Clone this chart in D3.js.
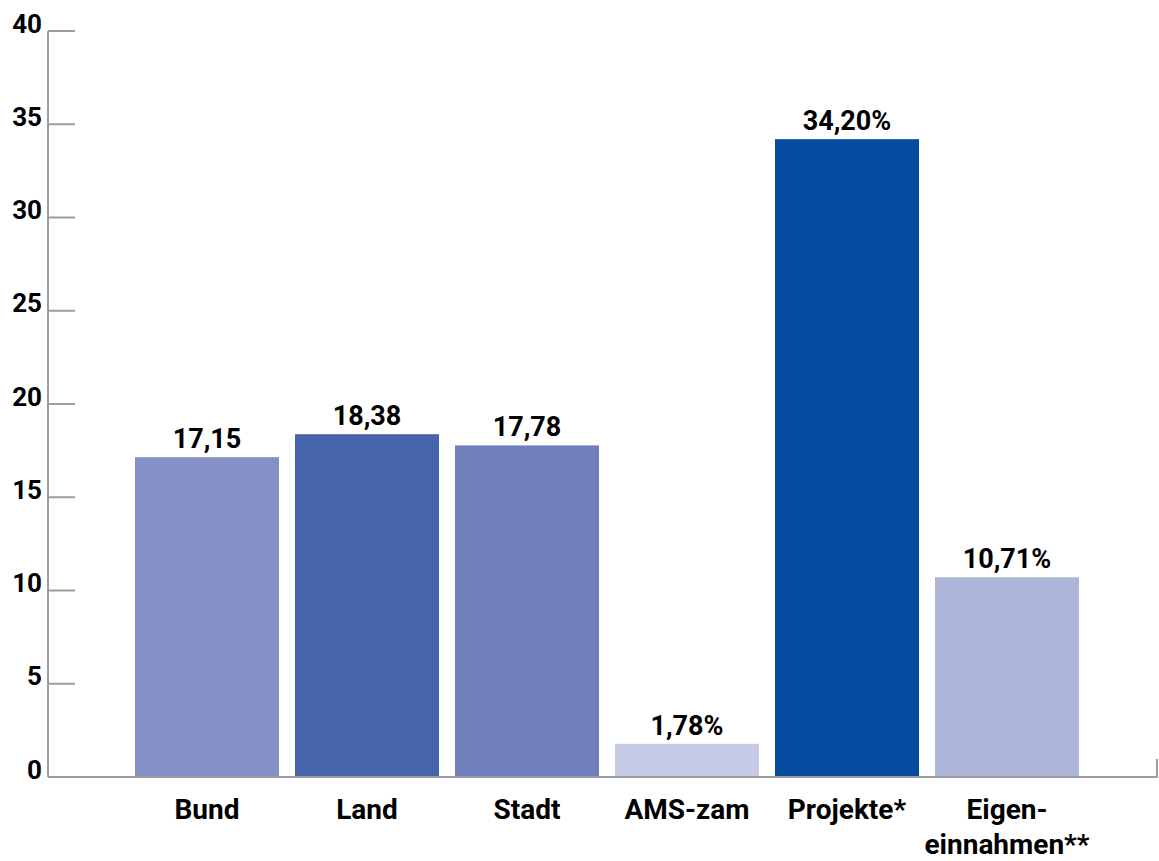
<script src="https://d3js.org/d3.v7.min.js"></script>

<style>
body { margin: 0; background: #fff; }
text { font-family: Roboto, "Open Sans", sans-serif; font-weight: 700; fill: #000; }
</style>

<div id="container"></div>

<script>
var categories = ["Bund", "Land", "Stadt", "AMS-zam", "Projekte*", "Eigen-\neinnahmen**"];
var values = [17.15, 18.38, 17.78, 1.78, 34.20, 10.71];
var valueLabels = ["17,15", "18,38", "17,78", "1,78%", "34,20%", "10,71%"];
var colors = ["#8591c6", "#4665ad", "#7080bd", "#c5cae6", "#054ca1", "#adb6da"];
var yTicks = [0, 5, 10, 15, 20, 25, 30, 35, 40];

var width = 1159, height = 861;

var svg = d3.select("#container").append("svg")
  .attr("width", width)
  .attr("height", height);

// scales
var y = d3.scaleLinear().domain([0, 40]).range([777, 31]);
var x = d3.scaleBand()
  .domain(categories)
  .range([127, 1087])
  .paddingInner(0.1)
  .paddingOuter(0.05);

var axisColor = "#9d9da2";

// bars
svg.append("g")
  .selectAll("rect")
  .data(values)
  .enter()
  .append("rect")
    .attr("x", function (d, i) { return x(categories[i]); })
    .attr("y", function (d) { return y(d); })
    .attr("width", x.bandwidth())
    .attr("height", function (d) { return y(0) - y(d); })
    .style("fill", function (d, i) { return colors[i]; });

// y axis
var yAxis = svg.append("g")
  .attr("transform", "translate(48,0)")
  .call(d3.axisLeft(y).tickValues(yTicks).tickSize(0).tickPadding(6));
yAxis.select(".domain").remove();
yAxis.selectAll("text")
  .style("font-size", "26px")
  .attr("dy", "0.04em")
  .attr("y", 0)
  .style("font-family", "Roboto, sans-serif")
  .style("font-weight", "700")
  .style("fill", "#000");

svg.append("line")
  .attr("x1", 48).attr("x2", 48)
  .attr("y1", y(40)).attr("y2", y(0))
  .style("stroke", axisColor).style("stroke-width", 2);

svg.append("g")
  .selectAll("line")
  .data(yTicks)
  .enter()
  .append("line")
    .attr("x1", 48).attr("x2", 75)
    .attr("y1", function (d) { return y(d); })
    .attr("y2", function (d) { return y(d); })
    .style("stroke", axisColor).style("stroke-width", 2);

// baseline
svg.append("line")
  .attr("x1", 48).attr("x2", 1158)
  .attr("y1", y(0)).attr("y2", y(0))
  .style("stroke", axisColor).style("stroke-width", 2);
svg.append("line")
  .attr("x1", 1157).attr("x2", 1157)
  .attr("y1", y(0) - 18).attr("y2", y(0))
  .style("stroke", axisColor).style("stroke-width", 2);

// value labels
svg.append("g")
  .selectAll("text")
  .data(values)
  .enter()
  .append("text")
    .attr("x", function (d, i) { return x(categories[i]) + x.bandwidth() / 2; })
    .attr("y", function (d) { return y(d) - 9; })
    .attr("text-anchor", "middle")
    .style("font-size", "27px")
    .text(function (d, i) { return valueLabels[i]; });

// category labels
var catLabels = svg.append("g")
  .selectAll("text")
  .data(categories)
  .enter()
  .append("text")
    .attr("x", function (d) { return x(d) + x.bandwidth() / 2; })
    .attr("y", 819)
    .attr("text-anchor", "middle")
    .style("font-size", "28px");

catLabels.selectAll("tspan")
  .data(function (d) { return d.split("\n"); })
  .enter()
  .append("tspan")
    .attr("x", function () { return d3.select(this.parentNode).attr("x"); })
    .attr("dy", function (d, i) { return i == 0 ? 0 : 35; })
    .text(function (d) { return d; });
</script>
